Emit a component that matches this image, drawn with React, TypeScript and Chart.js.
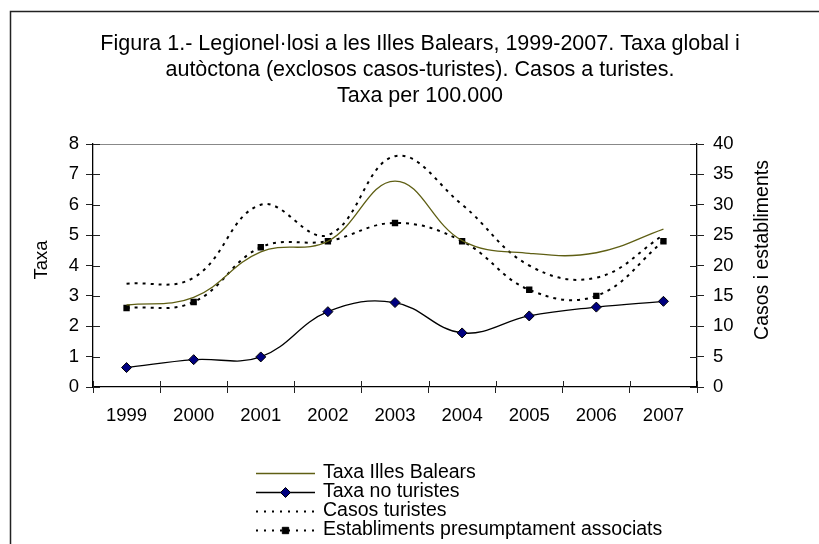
import React, { useEffect, useRef } from "react";
import { Chart, registerables } from "chart.js";

Chart.register(...registerables);

const years = ["1999", "2000", "2001", "2002", "2003", "2004", "2005", "2006", "2007"];
const taxaIllesBalears = [2.7, 2.95, 4.45, 4.8, 6.78, 4.82, 4.4, 4.42, 5.2];
const taxaNoTuristes = [0.64, 0.9, 0.99, 2.48, 2.78, 1.78, 2.34, 2.63, 2.82];
const casosTuristes = [17, 18, 30, 25, 38, 30, 20, 18, 25];
const establiments = [13, 14, 23, 24, 27, 24, 16, 15, 24];

const titleLines = [
  "Figura 1.- Legionel·losi a les Illes Balears, 1999-2007. Taxa global i",
  "autòctona (exclosos casos-turistes). Casos a turistes.",
  "Taxa per 100.000",
];
const leftAxisTitle = "Taxa";
const rightAxisTitle = "Casos i establiments";
const seriesNames = [
  "Taxa Illes Balears",
  "Taxa no turistes",
  "Casos turistes",
  "Establiments presumptament associats",
];

const FONT = '"Liberation Sans", Arial, sans-serif';
const OLIVE = "#5f5f14";

const decorPlugin = {
  id: "decor",
  afterDraw(chart: any) {
    const ctx = chart.ctx as CanvasRenderingContext2D;
    const area = chart.chartArea;
    const yL = chart.scales.y;
    const yR = chart.scales.y1;
    ctx.save();

    // outer frame
    ctx.strokeStyle = "#222";
    ctx.lineWidth = 1.5;
    ctx.beginPath();
    ctx.moveTo(10.5, 560);
    ctx.lineTo(10.5, 11.5);
    ctx.lineTo(830, 11.5);
    ctx.stroke();

    // top border of plot area
    ctx.strokeStyle = "#888";
    ctx.lineWidth = 1;
    ctx.beginPath();
    ctx.moveTo(area.left, Math.round(area.top) + 0.5);
    ctx.lineTo(area.right, Math.round(area.top) + 0.5);
    ctx.stroke();

    // inner tick halves
    ctx.strokeStyle = "#222";
    ctx.lineWidth = 1;
    ctx.beginPath();
    for (let v = 0; v <= 8; v++) {
      const y = Math.round(yL.getPixelForValue(v)) + 0.5;
      ctx.moveTo(area.left, y);
      ctx.lineTo(area.left + 7, y);
    }
    for (let v = 0; v <= 40; v += 5) {
      const y = Math.round(yR.getPixelForValue(v)) + 0.5;
      ctx.moveTo(area.right, y);
      ctx.lineTo(area.right - 7, y);
    }
    const n = years.length;
    for (let i = 0; i <= n; i++) {
      const x = Math.round(area.left + (i * (area.right - area.left)) / n) + 0.5;
      ctx.moveTo(x, area.bottom);
      ctx.lineTo(x, area.bottom - 6);
    }
    ctx.stroke();

    // title
    ctx.fillStyle = "#000";
    ctx.font = `21.5px ${FONT}`;
    ctx.textAlign = "center";
    ctx.textBaseline = "alphabetic";
    const baselines = [50, 76, 102];
    titleLines.forEach((t, i) => ctx.fillText(t, 420, baselines[i]));

    // axis titles
    ctx.textBaseline = "middle";
    ctx.font = `18.5px ${FONT}`;
    ctx.save();
    ctx.translate(42, 260);
    ctx.rotate(-Math.PI / 2);
    ctx.fillText(leftAxisTitle, 0, 0);
    ctx.restore();
    ctx.font = `19.5px ${FONT}`;
    ctx.save();
    ctx.translate(763, 250);
    ctx.rotate(-Math.PI / 2);
    ctx.fillText(rightAxisTitle, 0, 0);
    ctx.restore();

    // legend
    const rows = [473, 492, 511, 530];
    const x0 = 256;
    const x1 = 315;
    chart.data.datasets.forEach((ds: any, i: number) => {
      const y = rows[i] + 0.5;
      ctx.save();
      ctx.strokeStyle = ds.borderColor;
      ctx.lineWidth = ds.borderWidth;
      ctx.setLineDash(ds.borderDash ? [2, 6] : []);
      ctx.beginPath();
      ctx.moveTo(x0, y);
      ctx.lineTo(x1, y);
      ctx.stroke();
      ctx.restore();
      if (ds.pointRadius > 0) {
        const cx = (x0 + x1) / 2;
        const r = ds.pointRadius;
        ctx.save();
        ctx.fillStyle = ds.pointBackgroundColor;
        ctx.strokeStyle = ds.pointBorderColor;
        ctx.lineWidth = 1;
        ctx.beginPath();
        if (ds.pointStyle === "rectRot") {
          ctx.moveTo(cx, y - r);
          ctx.lineTo(cx + r, y);
          ctx.lineTo(cx, y + r);
          ctx.lineTo(cx - r, y);
          ctx.closePath();
        } else {
          const s = Math.SQRT1_2 * r;
          ctx.rect(cx - s, y - s, 2 * s, 2 * s);
        }
        ctx.fill();
        ctx.stroke();
        ctx.restore();
      }
      ctx.fillStyle = "#000";
      ctx.font = `19.5px ${FONT}`;
      ctx.textAlign = "left";
      ctx.textBaseline = "middle";
      ctx.fillText(ds.label, 323, rows[i]);
    });

    ctx.restore();
  },
};

export default function App() {
  const ref = useRef<HTMLCanvasElement | null>(null);

  useEffect(() => {
    if (!ref.current) return;
    const chart = new Chart(ref.current, {
      type: "line",
      data: {
        labels: years,
        datasets: [
          {
            label: seriesNames[0],
            data: taxaIllesBalears,
            yAxisID: "y",
            borderColor: OLIVE,
            backgroundColor: OLIVE,
            borderWidth: 1.3,
            pointRadius: 0,
            tension: 0.4,
          },
          {
            label: seriesNames[1],
            data: taxaNoTuristes,
            yAxisID: "y",
            borderColor: "#000",
            backgroundColor: "#000080",
            borderWidth: 1.3,
            pointStyle: "rectRot",
            pointRadius: 5,
            pointBackgroundColor: "#000080",
            pointBorderColor: "#000",
            pointBorderWidth: 1,
            tension: 0.4,
          },
          {
            label: seriesNames[2],
            data: casosTuristes,
            yAxisID: "y1",
            borderColor: "#000",
            backgroundColor: "#000",
            borderWidth: 2,
            borderDash: [3, 5],
            pointRadius: 0,
            tension: 0.4,
          },
          {
            label: seriesNames[3],
            data: establiments,
            yAxisID: "y1",
            borderColor: "#000",
            backgroundColor: "#000",
            borderWidth: 2,
            borderDash: [3, 5],
            pointStyle: "rect",
            pointRadius: 4.5,
            pointBackgroundColor: "#000",
            pointBorderColor: "#000",
            pointBorderWidth: 0,
            tension: 0.4,
          },
        ],
      },
      options: {
        animation: false,
        responsive: false,
        layout: { padding: { top: 144, left: 0, right: 0, bottom: 0 } },
        plugins: {
          legend: { display: false },
          title: { display: false },
          tooltip: { enabled: false },
        },
        scales: {
          x: {
            type: "category",
            offset: true,
            grid: {
              offset: true,
              drawOnChartArea: false,
              drawTicks: true,
              tickLength: 6,
              color: "#222",
            },
            border: { display: true, color: "#000", width: 1.3 },
            ticks: {
              color: "#000",
              font: { family: FONT, size: 18.5 },
              padding: 12,
              maxRotation: 0,
            },
            afterFit: (s: any) => {
              s.height = 157;
            },
          },
          y: {
            position: "left",
            min: 0,
            max: 8,
            ticks: {
              stepSize: 1,
              color: "#000",
              font: { family: FONT, size: 18.5 },
              padding: 7,
            },
            grid: { drawOnChartArea: false, tickLength: 7, color: "#222" },
            border: { display: true, color: "#000", width: 1.3 },
            afterFit: (s: any) => {
              s.width = 93;
            },
          },
          y1: {
            position: "right",
            min: 0,
            max: 40,
            ticks: {
              stepSize: 5,
              color: "#000",
              font: { family: FONT, size: 18.5 },
              padding: 9,
            },
            grid: { drawOnChartArea: false, tickLength: 7, color: "#222" },
            border: { display: true, color: "#000", width: 1.3 },
            afterFit: (s: any) => {
              s.width = 122;
            },
          },
        },
      },
      plugins: [decorPlugin],
    } as any);
    return () => chart.destroy();
  }, []);

  return (
    <div style={{ position: "fixed", left: 0, top: 0, width: 819, height: 544, background: "#fff" }}>
      <canvas ref={ref} width={819} height={544} style={{ display: "block" }} />
    </div>
  );
}
